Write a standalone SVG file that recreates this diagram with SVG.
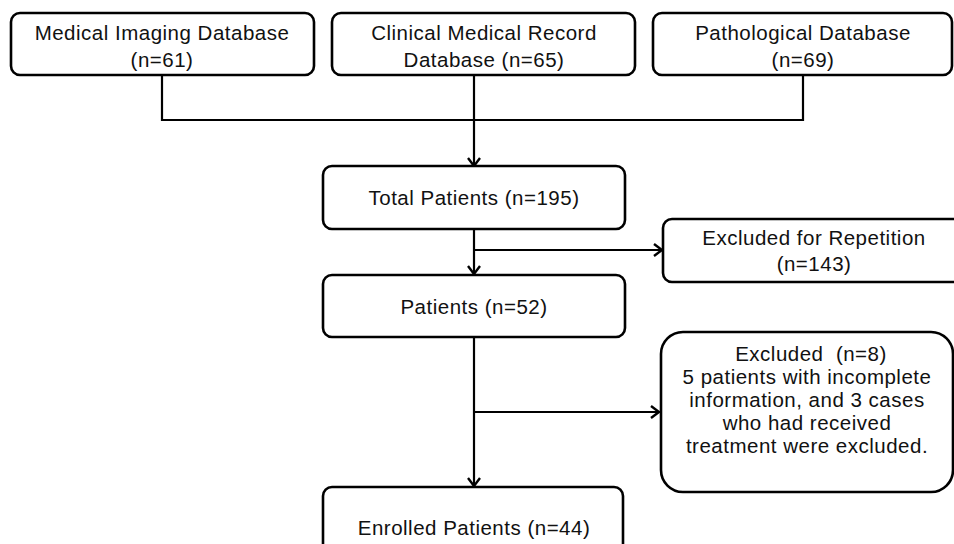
<svg xmlns="http://www.w3.org/2000/svg" width="954" height="544" viewBox="0 0 954 544">
<style>
.box{fill:#fff;stroke:#000;stroke-width:2.6}
.t{font-family:"Liberation Sans",Arial,sans-serif;font-size:20.5px;letter-spacing:0.5px;fill:#111;text-anchor:middle}
.ln{fill:none;stroke:#000;stroke-width:2.2}
</style>
<defs>
<marker id="ah" viewBox="0 0 12 14" refX="11" refY="7" markerWidth="12" markerHeight="14" markerUnits="userSpaceOnUse" orient="auto">
<path d="M3,1 L11,7 L3,13" fill="none" stroke="#000" stroke-width="2.4"/>
</marker>
</defs>
<g id="connectors">
<path class="ln" d="M162,76 V120 H803 V76"/>
<path class="ln" d="M474,76 V120"/>
<path class="ln" d="M474,120 V166" marker-end="url(#ah)"/>
<path class="ln" d="M474,230 V274" marker-end="url(#ah)"/>
<path class="ln" d="M475,250 H662" marker-end="url(#ah)"/>
<path class="ln" d="M474,338 V486" marker-end="url(#ah)"/>
<path class="ln" d="M475,412 H659" marker-end="url(#ah)"/>
</g>
<g id="n1"><rect class="box" x="11" y="13" width="303" height="62" rx="9"/>
<text class="t" x="162" y="40">Medical Imaging Database</text><text class="t" x="162" y="67">(n=61)</text></g>
<g id="n2"><rect class="box" x="332" y="13" width="303" height="62" rx="9"/>
<text class="t" x="484" y="40">Clinical Medical Record</text><text class="t" x="484" y="67">Database (n=65)</text></g>
<g id="n3"><rect class="box" x="653" y="13" width="299" height="62" rx="9"/>
<text class="t" x="803" y="40">Pathological Database</text><text class="t" x="803" y="67">(n=69)</text></g>
<g id="n4"><rect class="box" x="323" y="166" width="302" height="63" rx="9"/>
<text class="t" x="474" y="205">Total Patients (n=195)</text></g>
<g id="n5"><rect class="box" x="663" y="219" width="310" height="63" rx="9"/>
<text class="t" x="814" y="245">Excluded for Repetition</text><text class="t" x="814" y="271">(n=143)</text></g>
<g id="n6"><rect class="box" x="323" y="275" width="302" height="62" rx="9"/>
<text class="t" x="474" y="314">Patients (n=52)</text></g>
<g id="n7"><rect class="box" x="661" y="332" width="292" height="160" rx="22"/>
<text class="t" x="811" y="361" xml:space="preserve">Excluded  (n=8)</text>
<text class="t" x="807" y="384">5 patients with incomplete</text>
<text class="t" x="807" y="407">information, and 3 cases</text>
<text class="t" x="807" y="430">who had received</text>
<text class="t" x="807" y="453">treatment were excluded.</text></g>
<g id="n8"><rect class="box" x="323" y="487" width="300" height="70" rx="9"/>
<text class="t" x="474" y="535">Enrolled Patients (n=44)</text></g>
</svg>
